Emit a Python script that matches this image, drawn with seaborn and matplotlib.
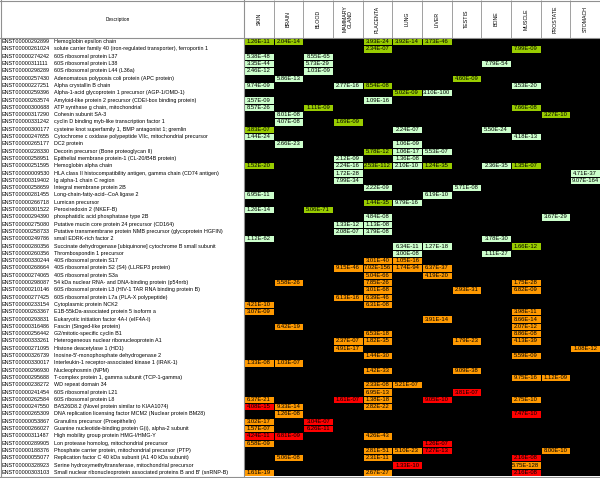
import numpy as np
import pandas as pd
import matplotlib
matplotlib.use("Agg")
import matplotlib.pyplot as plt
import seaborn as sns
from matplotlib.colors import ListedColormap
from matplotlib import transforms

gene_ids = [
    "ENST00000292899", "ENST00000261024", "ENST00000274242", "ENST00000311111", "ENST00000298289",
    "ENST00000257430", "ENST00000227251", "ENST00000259396", "ENST00000263574", "ENST00000300688",
    "ENST00000317290", "ENST00000331242", "ENST00000300177", "ENST00000247655", "ENST00000265177",
    "ENST00000228330", "ENST00000258951", "ENST00000251595", "ENST00000009530", "ENST00000319402",
    "ENST00000258659", "ENST00000281455", "ENST00000266718", "ENST00000301522", "ENST00000294390",
    "ENST00000275080", "ENST00000258733", "ENST00000249786", "ENST00000280356", "ENST00000260356",
    "ENST00000330244", "ENST00000268664", "ENST00000274065", "ENST00000298087", "ENST00000210146",
    "ENST00000277425", "ENST00000233154", "ENST00000263367", "ENST00000293831", "ENST00000316486",
    "ENST00000256442", "ENST00000333261", "ENST00000271095", "ENST00000326739", "ENST00000330017",
    "ENST00000296930", "ENST00000295688", "ENST00000238272", "ENST00000241454", "ENST00000262584",
    "ENST00000247550", "ENST00000265309", "ENST00000053867", "ENST00000266027", "ENST00000311487",
    "ENST00000289905", "ENST00000188376", "ENST00000055077", "ENST00000328923", "ENST00000303103",
]

descriptions = [
    "Hemoglobin epsilon chain",
    "solute carrier family 40 (iron-regulated transporter), ferroportin 1",
    "60S ribosomal protein L37",
    "60S ribosomal protein L38",
    "60S ribosomal protein L44 (L36a)",
    "Adenomatous polyposis coli protein (APC protein)",
    "Alpha crystallin B chain",
    "Alpha-1-acid glycoprotein 1 precursor (AGP-1/OMD-1)",
    "Amyloid-like protein 2 precursor (CDEI-box binding protein)",
    "ATP synthase g chain, mitochondrial",
    "Cohesin subunit SA-3",
    "cyclin D binding myb-like transcription factor 1",
    "cysteine knot superfamily 1, BMP antagonist 1; gremlin",
    "Cytochrome c oxidase polypeptide VIIc, mitochondrial precursor",
    "DC2 protein",
    "Decorin precursor (Bone proteoglycan II)",
    "Epithelial membrane protein-1 (CL-20/B4B protein)",
    "Hemoglobin alpha chain",
    "HLA class II histocompatibility antigen, gamma chain (CD74 antigen)",
    "Ig alpha-1 chain C region",
    "Integral membrane protein 2B",
    "Long-chain-fatty-acid--CoA ligase 2",
    "Lumican precursor",
    "Peroxiredoxin 2 (NKEF-B)",
    "phosphatidic acid phosphatase type 2B",
    "Putative mucin core protein 24 precursor (CD164)",
    "Putative transmembrane protein NMB precursor (glycoprotein HGFIN)",
    "small EDRK-rich factor 2",
    "Succinate dehydrogenase [ubiquinone] cytochrome B small subunit",
    "Thrombospondin 1 precursor",
    "40S ribosomal protein S17",
    "40S ribosomal protein S2 (S4) (LLREP3 protein)",
    "40S ribosomal protein S3a",
    "54 kDa nuclear RNA- and DNA-binding protein (p54nrb)",
    "60S ribosomal protein L3 (HIV-1 TAR RNA binding protein B)",
    "60S ribosomal protein L7a (PLA-X polypeptide)",
    "Cytoplasmic protein NCK2",
    "E1B-55kDa-associated protein 5 isoform a",
    "Eukaryotic initiation factor 4A-I (eIF4A-I)",
    "Fascin (Singed-like protein)",
    "G2/mitotic-specific cyclin B1",
    "Heterogeneous nuclear ribonucleoprotein A1",
    "Histone deacetylase 1 (HD1)",
    "Inosine-5'-monophosphate dehydrogenase 2",
    "Interleukin-1 receptor-associated kinase 1 (IRAK-1)",
    "Nucleophosmin (NPM)",
    "T-complex protein 1, gamma subunit (TCP-1-gamma)",
    "WD repeat domain 34",
    "60S ribosomal protein L21",
    "60S ribosomal protein L8",
    "BA526D8.2 (Novel protein similar to KIAA1074)",
    "DNA replication licensing factor MCM2 (Nuclear protein BM28)",
    "Granulins precursor (Proepithelin)",
    "Guanine nucleotide-binding protein G(i), alpha-2 subunit",
    "High mobility group protein HMG-I/HMG-Y",
    "Lon protease homolog, mitochondrial precursor",
    "Phosphate carrier protein, mitochondrial precursor (PTP)",
    "Replication factor C 40 kDa subunit (A1 40 kDa subunit)",
    "Serine hydroxymethyltransferase, mitochondrial precursor",
    "Small nuclear ribonucleoprotein associated proteins B and B' (snRNP-B)",
]

tissues = ["SKIN", "BRAIN", "BLOOD", "MAMMARY GLAND", "PLACENTA", "LUNG",
           "LIVER", "TESTIS", "BONE", "MUSCLE", "PROSTATE", "STOMACH"]
tissue_labels = ["SKIN", "BRAIN", "BLOOD", "MAMMARY\nGLAND", "PLACENTA", "LUNG",
                 "LIVER", "TESTIS", "BONE", "MUSCLE", "PROSTATE", "STOMACH"]

# (row number, p-value, level)  L = light green, D = dark green, O = orange, R = red
skin = [(1, "1.26E-11", "D"), (3, "5.38E-48", "L"), (4, "3.35E-44", "L"), (5, "2.46E-12", "L"),
        (7, "9.74E-09", "L"), (9, "3.57E-09", "L"), (10, "8.57E-26", "L"), (13, "3.83E-07", "D"),
        (14, "1.44E-24", "L"), (18, "1.52E-20", "D"), (22, "6.95E-11", "L"), (24, "1.26E-14", "L"),
        (28, "1.12E-62", "L"), (37, "4.21E-10", "O"), (38, "3.07E-09", "O"), (45, "1.33E-08", "O"),
        (50, "6.37E-21", "O"), (51, "4.08E-15", "R"), (53, "3.02E-17", "O"), (54, "1.57E-07", "O"),
        (55, "4.24E-11", "R"), (56, "6.58E-09", "O"), (60, "1.61E-19", "O")]
brain = [(1, "2.04E-14", "D"), (6, "5.86E-13", "L"), (11, "8.01E-08", "L"), (12, "4.07E-08", "L"),
         (15, "2.66E-23", "L"), (34, "5.58E-26", "O"), (40, "6.42E-19", "O"), (45, "1.03E-07", "O"),
         (51, "9.33E-14", "O"), (52, "1.26E-08", "O"), (55, "6.81E-09", "R"), (58, "5.06E-08", "O")]
blood = [(3, "8.55E-65", "L"), (4, "5.73E-29", "L"), (5, "1.03E-09", "L"), (10, "1.11E-09", "D"),
         (24, "5.06E-71", "D"), (53, "3.04E-07", "R"), (54, "6.26E-11", "R")]
mammary = [(7, "2.77E-16", "L"), (12, "1.69E-09", "D"), (17, "2.12E-09", "L"), (18, "2.24E-16", "L"),
           (19, "1.72E-28", "L"), (20, "7.99E-34", "L"), (26, "1.33E-12", "L"), (27, "2.08E-07", "L"),
           (32, "9.15E-46", "O"), (36, "6.13E-16", "O"), (42, "2.37E-07", "O"), (43, "4.91E-17", "O"),
           (50, "1.61E-07", "R")]
placenta = [(1, "3.93E-24", "D"), (2, "2.34E-07", "D"), (7, "8.54E-08", "D"), (9, "1.09E-16", "L"),
            (16, "5.78E-12", "D"), (18, "2.53E-112", "D"), (21, "2.22E-09", "L"), (23, "1.44E-35", "D"),
            (25, "4.84E-08", "L"), (26, "1.13E-08", "L"), (27, "3.79E-08", "L"), (31, "3.01E-40", "O"),
            (32, "7.02E-156", "O"), (33, "5.04E-66", "O"), (34, "7.85E-26", "O"), (35, "3.01E-68", "O"),
            (36, "6.39E-46", "O"), (37, "6.31E-08", "O"), (41, "6.53E-18", "O"), (42, "1.82E-35", "O"),
            (44, "1.44E-30", "O"), (46, "1.42E-33", "O"), (48, "2.33E-08", "O"), (49, "6.95E-13", "O"),
            (50, "1.38E-18", "O"), (51, "2.82E-22", "O"), (55, "4.26E-43", "O"), (57, "2.81E-51", "O"),
            (58, "2.31E-11", "O"), (60, "2.67E-27", "O")]
lung = [(1, "3.92E-14", "D"), (8, "5.02E-09", "D"), (13, "2.24E-07", "L"), (15, "1.06E-09", "L"),
        (16, "1.06E-17", "L"), (17, "1.36E-08", "L"), (18, "2.10E-10", "L"), (23, "9.79E-16", "L"),
        (29, "6.34E-11", "L"), (30, "3.00E-08", "L"), (31, "1.05E-16", "O"), (32, "1.74E-94", "O"),
        (48, "5.21E-07", "O"), (57, "5.10E-23", "O"), (59, "1.33E-10", "R")]
liver = [(1, "3.73E-46", "D"), (8, "3.10E-100", "L"), (16, "5.53E-07", "L"), (18, "1.24E-35", "D"),
         (22, "6.19E-10", "L"), (29, "1.27E-18", "L"), (32, "6.37E-37", "O"), (33, "4.19E-20", "O"),
         (39, "3.91E-14", "O"), (50, "9.05E-10", "R"), (56, "1.26E-07", "R"), (57, "7.27E-13", "R")]
testis = [(6, "4.60E-09", "D"), (21, "5.71E-08", "L"), (35, "2.93E-31", "O"), (42, "1.79E-23", "O"),
          (46, "9.09E-38", "O"), (49, "3.81E-07", "R")]
bone = [(4, "7.79E-54", "L"), (13, "5.50E-24", "L"), (18, "2.36E-35", "L"), (28, "3.78E-30", "L"),
        (30, "1.11E-27", "L")]
muscle = [(2, "7.99E-09", "D"), (7, "3.53E-20", "L"), (10, "7.66E-08", "D"), (14, "4.18E-13", "L"),
          (18, "1.35E-07", "D"), (29, "1.66E-12", "D"), (34, "1.75E-28", "O"), (35, "6.82E-09", "O"),
          (38, "3.98E-11", "O"), (39, "8.66E-14", "O"), (40, "2.07E-12", "O"), (41, "8.86E-08", "O"),
          (42, "4.13E-39", "O"), (44, "5.59E-09", "O"), (47, "9.75E-16", "O"), (50, "2.75E-10", "O"),
          (52, "7.47E-10", "R"), (58, "2.16E-08", "R"), (59, "5.75E-128", "O"), (60, "2.16E-08", "R")]
prostate = [(11, "3.27E-10", "D"), (25, "3.67E-29", "L"), (47, "1.12E-09", "O"), (57, "8.00E-10", "O")]
stomach = [(19, "4.71E-37", "L"), (20, "9.07E-164", "L"), (43, "1.08E-12", "O")]

columns = [skin, brain, blood, mammary, placenta, lung, liver, testis, bone, muscle, prostate, stomach]
level_codes = {"L": 1, "D": 2, "O": 3, "R": 4}
level_colors = ["#000000", "#CCFFCC", "#99CC00", "#FF9900", "#FF0000"]

n_rows = len(gene_ids)
codes = np.zeros((n_rows, len(tissues)))
labels = np.full((n_rows, len(tissues)), "", dtype=object)
for j, col in enumerate(columns):
    for row, val, lev in col:
        codes[row - 1, j] = level_codes[lev]
        labels[row - 1, j] = val
df = pd.DataFrame(codes, index=gene_ids, columns=tissues)

plt.rcParams["font.family"] = ["Liberation Sans", "DejaVu Sans"]

W, H = 600, 478
x_data, y_top, y_bot = 244, 38, 476
fig = plt.figure(figsize=(W / 100, H / 100), dpi=100)
fig.patch.set_facecolor("white")

ax = fig.add_axes([x_data / W, 1 - y_bot / H, (W - x_data) / W, (y_bot - y_top) / H])
sns.heatmap(df, ax=ax, cmap=ListedColormap(level_colors), vmin=-0.5, vmax=4.5, cbar=False,
            annot=labels, fmt="", annot_kws={"size": 4.2, "color": "black"},
            linewidths=0.6, linecolor="black", xticklabels=tissue_labels, yticklabels=False)
ax.set_xlabel("")
ax.set_ylabel("")
ax.tick_params(axis="x", bottom=False, top=False, labelbottom=False, labeltop=True,
               length=0, pad=13.7, labelsize=3.8, labelrotation=90)
for lbl in ax.get_xticklabels():
    lbl.set_verticalalignment("center")
    lbl.set_horizontalalignment("center")
    lbl.set_linespacing(1.0)

# left text columns (IDs + descriptions), sharing the heatmap's row scale
ax_left = fig.add_axes([0, 1 - y_bot / H, x_data / W, (y_bot - y_top) / H], sharey=ax)
ax_left.set_xlim(0, x_data)
ax_left.axis("off")
for i, (gid, desc) in enumerate(zip(gene_ids, descriptions)):
    ax_left.text(2, i + 0.5, gid, fontsize=3.85, va="center", ha="left", clip_on=True)
    ax_left.text(54, i + 0.5, desc, fontsize=3.85, va="center", ha="left", clip_on=True)

fig.text(118 / W, 1 - 19 / H, "Description", fontsize=3.4, ha="center", va="center")

# table rules
grey = "#909090"
tr_head = transforms.blended_transform_factory(ax.transData, fig.transFigure)
ax.vlines(np.arange(1, len(tissues)), 1 - y_top / H, 1.0, colors=grey, linewidth=0.6,
          transform=tr_head, clip_on=False)
fig.add_artist(plt.Line2D([0, 1], [1 - y_top / H, 1 - y_top / H], color=grey, lw=0.8))
fig.add_artist(plt.Line2D([0, 1], [1 - 0.5 / H, 1 - 0.5 / H], color=grey, lw=0.8))
fig.add_artist(plt.Line2D([0, 1], [1 - 477 / H, 1 - 477 / H], color=grey, lw=0.8))
fig.add_artist(plt.Line2D([0.5 / W, 0.5 / W], [1 - 477 / H, 1], color=grey, lw=0.8))
fig.add_artist(plt.Line2D([x_data / W, x_data / W], [1 - 477 / H, 1], color=grey, lw=0.8))

fig.savefig("out.png", dpi=100, facecolor="white")
